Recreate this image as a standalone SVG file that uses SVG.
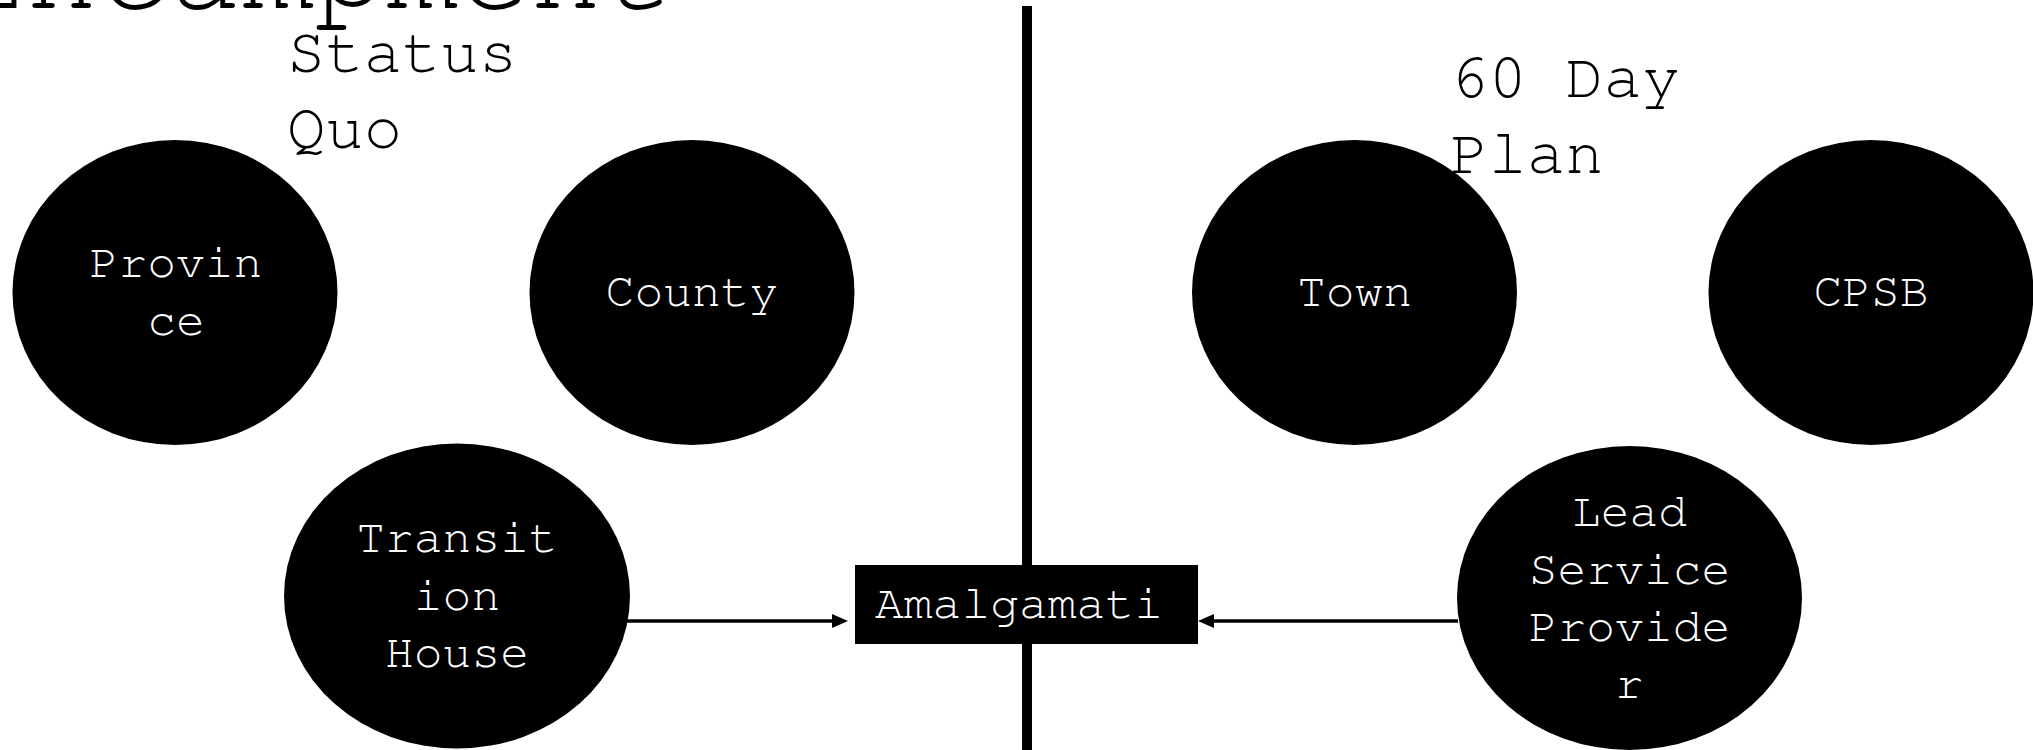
<svg xmlns="http://www.w3.org/2000/svg" width="2033" height="750" viewBox="0 0 2033 750">
<style>
  .node { fill: #000; }
  .lbl { font-family: "Nimbus Mono PS", "Nimbus Mono L", "FreeMono", "Courier 10 Pitch", "Courier", "Liberation Mono", monospace; font-size: 48px; fill: #fff; text-anchor: middle; }
  .head { font-family: "Nimbus Mono PS", "Nimbus Mono L", "FreeMono", "Courier 10 Pitch", "Courier", "Liberation Mono", monospace; font-size: 64px; fill: #000; }
  .title { font-family: "Nimbus Mono PS", "Nimbus Mono L", "FreeMono", "Courier 10 Pitch", "Courier", "Liberation Mono", monospace; font-size: 120px; fill: #000; }
  .conn { stroke: #000; stroke-width: 3.5; fill: none; }
</style>
<defs>
  <marker id="arr" markerUnits="userSpaceOnUse" markerWidth="17" markerHeight="15" refX="0" refY="7" orient="auto">
    <path d="M0,0 L16,7 L0,14 z" fill="#000"/>
  </marker>
</defs>
<rect width="2033" height="750" fill="#fff"/>
<text class="title" x="-46" y="8">Encampment</text>
<g id="divider"><rect x="1022" y="6" width="10" height="744" fill="#000"/></g>
<text class="head" x="287" y="72">Status</text>
<text class="head" x="287" y="148">Quo</text>
<text class="head" x="1450" y="97">60 Day</text>
<text class="head" x="1450" y="173">Plan</text>
<g id="province"><ellipse class="node" cx="175" cy="292.5" rx="162.5" ry="152.5"/><text class="lbl" x="176" y="277">Provin</text><text class="lbl" x="176" y="334.5">ce</text></g>
<g id="county"><ellipse class="node" cx="692" cy="292.5" rx="162.5" ry="152.5"/><text class="lbl" x="692" y="306">County</text></g>
<g id="town"><ellipse class="node" cx="1354.5" cy="292.5" rx="162.5" ry="152.5"/><text class="lbl" x="1354.5" y="306">Town</text></g>
<g id="cpsb"><ellipse class="node" cx="1871" cy="292.5" rx="162.5" ry="152.5"/><text class="lbl" x="1871" y="306">CPSB</text></g>
<g id="transition-house"><ellipse class="node" cx="457" cy="596" rx="173" ry="152.5"/><text class="lbl" x="457" y="552">Transit</text><text class="lbl" x="457" y="610">ion</text><text class="lbl" x="457" y="667">House</text></g>
<g id="lead-service-provider"><ellipse class="node" cx="1629.5" cy="598" rx="172.5" ry="152"/><text class="lbl" x="1629.5" y="526">Lead</text><text class="lbl" x="1629.5" y="584">Service</text><text class="lbl" x="1629.5" y="641">Provide</text><text class="lbl" x="1629.5" y="698">r</text></g>
<g id="connectors">
  <path class="conn" d="M626,621 L832,621" marker-end="url(#arr)"/>
  <path class="conn" d="M1458,621 L1214,621" marker-end="url(#arr)"/>
</g>
<g id="amalgamation"><rect class="node" x="855" y="565" width="343" height="79"/><text class="lbl" x="1019" y="618">Amalgamati</text></g>
</svg>
